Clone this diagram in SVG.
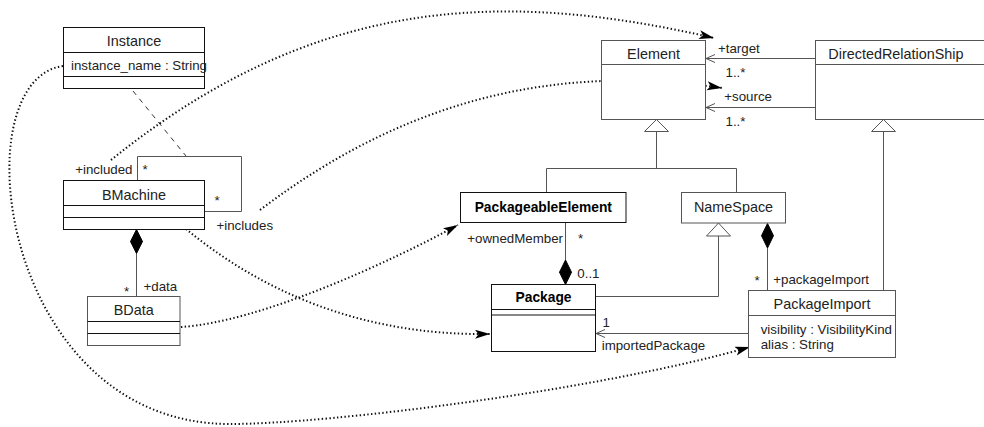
<svg xmlns="http://www.w3.org/2000/svg" width="984" height="427" viewBox="0 0 984 427">
<style>
  .box { fill: #fff; stroke: #555; stroke-width: 1; }
  .dark { stroke: #111; }
  .div { stroke: #555; stroke-width: 1; fill: none; }
  .divd { stroke: #111; stroke-width: 1; fill: none; }
  .name { font-family: "Liberation Sans", Arial, sans-serif; font-size: 14.4px; fill: #222; text-anchor: middle; }
  .left { text-anchor: start; }
  .bold { font-weight: bold; font-size: 13.8px; fill: #000; }
  .lbl { font-family: "Liberation Sans", Arial, sans-serif; font-size: 13.3px; fill: #222; }
  .end { text-anchor: end; }
  .line { stroke: #555; stroke-width: 1; fill: none; }
  .dotted { stroke: #111; stroke-width: 2; stroke-dasharray: 1.4 2.4; fill: none; marker-end: url(#filled); }
  .dashed { stroke: #333; stroke-width: 1; stroke-dasharray: 5 5; fill: none; }
  .tri { fill: #fff; stroke: #555; stroke-width: 1; }
  .dia { fill: #000; stroke: #000; stroke-width: 1; }
</style>
<defs>
  <marker id="filled" markerUnits="userSpaceOnUse" markerWidth="16" markerHeight="10" refX="15" refY="4.5" orient="auto">
    <path d="M0,0 L15,4.5 L0,9 L3.5,4.5 z" fill="#000" stroke="none"/>
  </marker>
  <marker id="open" markerUnits="userSpaceOnUse" markerWidth="11" markerHeight="10" refX="9" refY="4" orient="auto">
    <path d="M0,0 L9,4 L0,8" fill="none" stroke="#555" stroke-width="1"/>
  </marker>
</defs>
<rect width="984" height="427" fill="#fff"/>

<g id="connectors">
  <path class="line" d="M656.5,131.5 V168.5 M546.5,192.5 V168.5 H736.5 V192.5"/>
  <polygon class="tri" points="656.5,119.5 644.5,131.5 668.5,131.5"/>
  <path class="line" d="M883.5,131.5 V290.5"/>
  <polygon class="tri" points="883.5,119.5 871.5,131.5 895.5,131.5"/>
  <path class="line" d="M595.5,296.5 H718.5 V236"/>
  <polygon class="tri" points="718.5,223 706.5,236 730.5,236"/>
  <path class="line" d="M565.5,222.5 V260"/>
  <polygon class="dia" points="565.5,260 571.5,272.2 565.5,284.5 559.5,272.2"/>
  <path class="line" d="M767.5,248 V290.5"/>
  <polygon class="dia" points="767.5,223.5 773.5,235.7 767.5,248 761.5,235.7"/>
  <path class="line" d="M136.5,253.5 V296.5"/>
  <polygon class="dia" points="136.5,229.5 142.5,241.5 136.5,253.5 130.5,241.5"/>
  <path class="line" d="M815.5,58.5 H706" marker-end="url(#open)"/>
  <path class="line" d="M815.5,107.5 H706" marker-end="url(#open)"/>
  <path class="line" d="M748.5,333.5 H596" marker-end="url(#open)"/>
  <path class="line" d="M137.5,180.5 V156.5 H241.5 V211.5 H204.5"/>
  <path class="dashed" d="M133,91 L186,156"/>
  <path class="dotted" d="M111,160 C312.8,-2.8 499.5,-11.5 714,38"/>
  <path class="dotted" d="M260,210 C419,89 574,66 722,88"/>
  <path class="dotted" d="M186,229 C260,290 360,336 490,334"/>
  <path class="dotted" d="M181,327 C260,322 390,262 458,225"/>
  <path class="dotted" d="M63,66 C-40,80 0,424 230,424 C330,424 600,390 750,347"/>
  <text class="lbl end" x="132.5" y="173.5">+included</text>
  <text class="lbl" x="142.5" y="174">*</text>
  <text class="lbl" x="214.5" y="205">*</text>
  <text class="lbl" x="216.5" y="230">+includes</text>
  <text class="lbl" x="143.5" y="290.5">+data</text>
  <text class="lbl" x="124" y="296">*</text>
  <text class="lbl" x="718" y="52.5">+target</text>
  <text class="lbl" x="725.5" y="76.5">1..*</text>
  <text class="lbl" x="724.3" y="101">+source</text>
  <text class="lbl" x="725.5" y="126">1..*</text>
  <text class="lbl end" x="563" y="242.5">+ownedMember</text>
  <text class="lbl" x="578" y="243">*</text>
  <text class="lbl" x="577.3" y="278">0..1</text>
  <text class="lbl" x="602.5" y="326.5">1</text>
  <text class="lbl" x="601.7" y="349.5">importedPackage</text>
  <text class="lbl" x="773.3" y="283.5">+packageImport</text>
  <text class="lbl" x="754.5" y="285">*</text>
</g>

<g id="Instance">
  <rect class="box dark" x="63.5" y="27.5" width="141" height="61"/>
  <path class="divd" d="M63.5,52.5 H204.5 M63.5,76.5 H204.5"/>
  <text class="name" x="134" y="46">Instance</text>
  <text class="lbl" x="71" y="69.5">instance_name : String</text>
</g>

<g id="BMachine">
  <rect class="box dark" x="63.5" y="180.5" width="141" height="49"/>
  <path class="divd" d="M63.5,205.5 H204.5 M63.5,217.5 H204.5"/>
  <text class="name" x="134" y="200">BMachine</text>
</g>

<g id="BData">
  <rect class="box" x="87.5" y="296.5" width="92.5" height="49"/>
  <path class="divd" d="M87.5,321.5 H180 M87.5,333.5 H180"/>
  <text class="name" x="133.7" y="315">BData</text>
</g>

<g id="Element">
  <rect class="box" x="601.5" y="40.5" width="104" height="79"/>
  <path class="div" d="M601.5,64.5 H705.5"/>
  <text class="name" x="653.5" y="58.5">Element</text>
</g>

<g id="DirectedRelationShip">
  <rect class="box" x="815.5" y="40.5" width="180" height="79"/>
  <path class="div" d="M815.5,64.5 H995.5"/>
  <text class="name left" x="828.3" y="58.5">DirectedRelationShip</text>
</g>

<g id="PackageableElement">
  <rect class="box dark" x="460.5" y="192.5" width="165.5" height="30"/>
  <text class="name bold" x="543.3" y="211.7">PackageableElement</text>
</g>

<g id="NameSpace">
  <rect class="box" x="681.5" y="192.5" width="104" height="30.5"/>
  <text class="name" x="733.5" y="211.7">NameSpace</text>
</g>

<g id="Package">
  <rect class="box dark" x="491.5" y="284.5" width="104" height="67"/>
  <path class="divd" d="M491.5,309.5 H595.5 M491.5,315 H595.5"/>
  <text class="name bold" x="543.5" y="302.3">Package</text>
</g>

<g id="PackageImport">
  <rect class="box" x="748.5" y="290.5" width="147" height="67"/>
  <path class="div" d="M748.5,315.5 H895.5"/>
  <text class="name" x="822" y="309.3">PackageImport</text>
  <text class="lbl" x="760.7" y="334">visibility : VisibilityKind</text>
  <text class="lbl" x="760.7" y="349.3">alias : String</text>
</g>
</svg>
